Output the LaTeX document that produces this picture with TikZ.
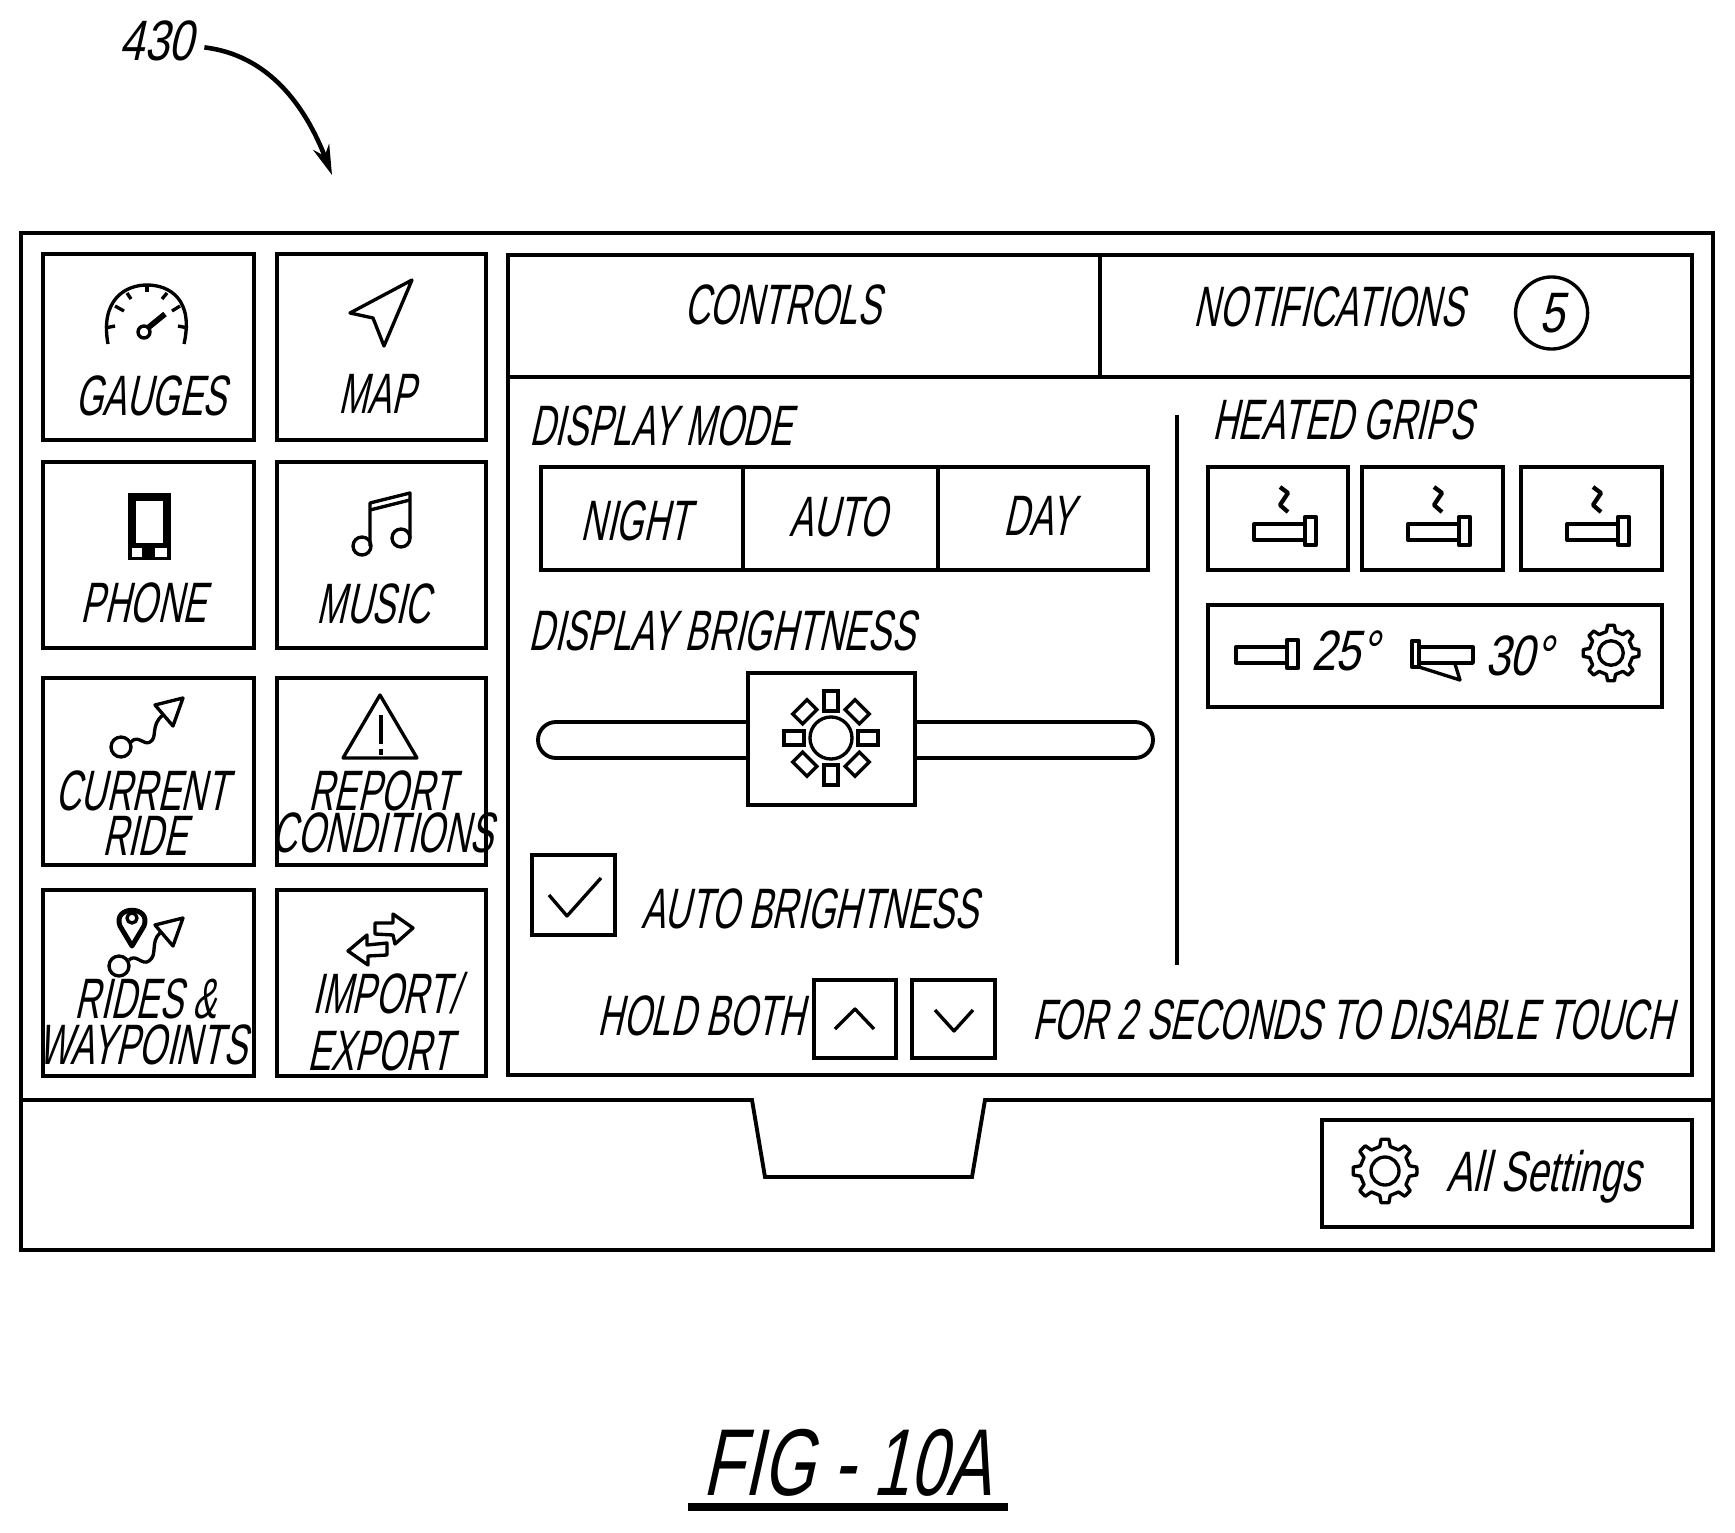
\documentclass[tikz,border=0pt]{standalone}
\usepackage{fontspec}
\usetikzlibrary{calc,arrows.meta}
\newfontfamily\uifont{Liberation Sans}[FakeStretch=0.62,FakeSlant=0.22]
\newfontfamily\numfont{Liberation Sans}[FakeStretch=0.78,FakeSlant=0.22]
\newfontfamily\mixfont{Liberation Sans}[FakeStretch=0.68,FakeSlant=0.22]
\newfontfamily\figfont{Liberation Sans}[FakeStretch=0.7,FakeSlant=0.22]
\tikzset{
    box/.style     = {line width=1.1pt,line join=miter},
    iconline/.style = {line width=0.95pt,line join=round},
    uilabel/.style = {font=\uifont\fontsize{16.2}{18}\selectfont,anchor=base,inner sep=0pt,xshift=-0.044cm,yshift=0.02cm},
    numlabel/.style = {uilabel,font=\numfont\fontsize{16.2}{18}\selectfont},
    arrow/.style   = {line width=1.3pt,-{Stealth[length=0.3cm,width=0.17cm]}},
    ray/.style     = {draw,line width=0.95pt,inner sep=0pt,minimum width=0.2cm,minimum height=0.14cm},
    gripbar/.pic   = {
        \draw[iconline] (0,-8) rectangle (51,8);
        \draw[iconline,line width=1.2pt] (51,-15) rectangle (62,13);
    },
    gripheat/.pic  = {
        \draw[iconline,line width=1.2pt] (26,-45) -- (34,-39) -- (26,-27) -- (34,-20);
        \pic {gripbar};
    },
    gearicon/.pic  = {
        \draw[iconline] (0:32)
            \foreach \a in {0,45,...,315} {
                -- (\a+7:32) -- (\a+12:25) -- (\a+33:25) -- (\a+38:32)
            } -- cycle;
        \draw[iconline] (0,0) circle[radius=14];
    },
    triphead/.pic  = {
        \draw[iconline] (0,0) -- (-28,7) -- (-10,28) -- cycle;
    },
}

\begin{document}
\begin{tikzpicture}[x=0.01cm,y=-0.01cm]
    \useasboundingbox (0,0) rectangle (1735,1533);

    % reference numeral
    \node[numlabel] (refnum) at (161,63) {430};
    \coordinate (reftip) at (332,175);
    \draw[arrow] (refnum.east) ++(10,6) .. controls (268,55) and (305,105) .. (reftip);

    % outer frame
    \draw[box] (21,233) rectangle (1713,1250);
    \draw[box] (21,1100) -- (752,1100) -- (765,1177) -- (972,1177) -- (985,1100) -- (1713,1100);

    % tiles
    \draw[box] (43,254) rectangle (254,440);
    \draw[box] (277,254) rectangle (486,440);
    \draw[box] (43,462) rectangle (254,648);
    \draw[box] (277,462) rectangle (486,648);
    \draw[box] (43,678) rectangle (254,865);
    \draw[box] (277,678) rectangle (486,865);
    \draw[box] (43,890) rectangle (254,1076);
    \draw[box] (277,890) rectangle (486,1076);

    \node[uilabel] (gauges) at (155,417) {GAUGES};
    \node[uilabel] (map) at (381,415) {MAP};
    \node[uilabel] (phone) at (148,624) {PHONE};
    \node[uilabel] (music) at (378,625) {MUSIC};
    \node[uilabel] (current) at (146,812) {CURRENT};
    \node[uilabel] (ride) at (149,857) {RIDE};
    \node[uilabel] (report) at (386,812) {REPORT};
    \node[uilabel] (conditions) at (387,854) {CONDITIONS};
    \node[uilabel] (rides) at (150,1020) {RIDES \&};
    \node[uilabel] (waypoints) at (147,1066) {WAYPOINTS};
    \node[uilabel] (import) at (390,1015) {IMPORT/};
    \node[uilabel] (export) at (384,1072) {EXPORT};

    % gauge icon
    \draw[iconline] (108,344) .. controls (100,300) and (125,285) .. (147,285)
        .. controls (170,285) and (194,300) .. (184,344);
    \draw[iconline] (105,328) -- (115,326);
    \draw[iconline] (115,306) -- (124,311);
    \draw[iconline] (127,293) -- (131,299);
    \draw[iconline] (147,285) -- (147,292);
    \draw[iconline] (167,293) -- (162,299);
    \draw[iconline] (180,306) -- (172,311);
    \draw[iconline] (188,328) -- (178,326);
    \draw[iconline] (144,332) circle[radius=6];
    \draw[line width=1.6pt] (149,327) -- (165,314);

    % map icon
    \draw[iconline] (412,280) -- (350,313) -- (373,318) -- (384,346) -- cycle;

    % phone icon
    \fill (128,493) rectangle (171,560);
    \fill[white] (136,501) rectangle (163,543);
    \fill[white] (132,548) rectangle (142,557);
    \fill[white] (155,548) rectangle (167,557);

    % music icon
    \draw[iconline] (362,546) circle[radius=9];
    \draw[iconline] (401,538) circle[radius=9];
    \draw[iconline] (370,546) -- (370,503) -- (410,493) -- (410,538);
    \draw[iconline] (370,510) -- (410,500);

    % current ride icon
    \draw[iconline] (121,747) circle[radius=10];
    \draw[iconline] (131,742) .. controls (138,734) and (144,746) .. (150,742)
        .. controls (158,738) and (150,725) .. (163,715);
    \pic at (183,698) {triphead};

    % warning icon
    \draw[iconline] (380,695) -- (343,758) -- (417,758) -- cycle;
    \draw[iconline] (381,715) -- (381,744);
    \draw[iconline] (381,749) -- (381,755);

    % rides icon
    \draw[line width=1.4pt,line join=round] (132,946) -- (120,926) .. controls (112,905) and (152,905) .. (144,926) -- cycle;
    \draw[iconline] (132,918) circle[radius=5];
    \draw[iconline] (119,966) circle[radius=10];
    \draw[iconline] (129,960) .. controls (136,953) and (142,966) .. (149,961)
        .. controls (158,955) and (150,942) .. (160,933);
    \pic at (183,918) {triphead};

    % import export icon
    \draw[iconline] (375,923) -- (375,934) -- (393,935) -- (395,944) -- (413,928) -- (393,914) -- (393,923) -- cycle;
    \draw[iconline] (348,951) -- (367,935) -- (367,945) -- (387,943) -- (387,955) -- (368,956) -- (368,965) -- cycle;

    % right panel
    \draw[box] (508,255) rectangle (1692,1075);
    \draw[box] (508,377) -- (1692,377);
    \draw[box] (1100,255) -- (1100,377);
    \draw[box] (1177,415) -- (1177,965);
    \node[uilabel] (controls) at (787,327) {CONTROLS};
    \node[uilabel] (notifications) at (1333,328) {NOTIFICATIONS};
    \node[numlabel,anchor=center,draw,circle,line width=0.95pt,minimum size=0.72cm] (badge) at (1556,315) {5};

    % display mode
    \node[uilabel] (displaymode) at (665,447) {DISPLAY MODE};
    \draw[box] (541,467) rectangle (1148,570);
    \draw[box] (743,467) -- (743,570);
    \draw[box] (938,467) -- (938,570);
    \node[uilabel] (night) at (640,542) {NIGHT};
    \node[uilabel] (auto) at (843,538) {AUTO};
    \node[uilabel] (day) at (1043,537) {DAY};

    % brightness
    \node[uilabel] (displaybright) at (726,652) {DISPLAY BRIGHTNESS};
    \draw[box,rounded corners=0.18cm] (538,722) rectangle (1153,758);
    \draw[box,fill=white] (748,673) rectangle (915,805);
    \node[draw,circle,line width=0.95pt,inner sep=0pt,minimum size=0.42cm] (sun) at (831,738) {};
    \foreach \a in {0,45,...,315}
        \node[ray,rotate=\a] (ray\a) at ($(sun)+(\a:37)$) {};

    \draw[box] (532,855) rectangle (615,935);
    \coordinate (checkl) at (549,895);
    \coordinate (checkm) at (567,916);
    \coordinate (checkr) at (601,878);
    \draw[iconline] (checkl) -- (checkm) -- (checkr);
    \node[uilabel] (autobright) at (814,930) {AUTO BRIGHTNESS};

    % touch hint
    \node[uilabel] (holdboth) at (705,1037) {HOLD BOTH};
    \draw[box] (814,980) rectangle (896,1058);
    \draw[iconline] (835,1029) -- (855,1009) -- (874,1029);
    \draw[box] (912,980) rectangle (995,1058);
    \draw[iconline] (935,1010) -- (954,1031) -- (973,1010);
    \node[uilabel] (forsecs) at (1357,1041) {FOR 2 SECONDS TO DISABLE TOUCH};

    % heated grips
    \node[uilabel] (heated) at (1347,442) {HEATED GRIPS};
    \draw[box] (1208,467) rectangle (1348,570);
    \draw[box] (1362,467) rectangle (1503,570);
    \draw[box] (1521,467) rectangle (1662,570);
    \pic at (1254,532) {gripheat};
    \pic at (1408,532) {gripheat};
    \pic at (1567,532) {gripheat};

    \draw[box] (1208,605) rectangle (1662,707);
    \pic at (1236,655) {gripbar};
    \node[numlabel] (handtemp) at (1349,672) {25°};
    \draw[iconline,line width=1.2pt] (1412,641) rectangle (1419,667);
    \draw[iconline] (1419,647) -- (1473,647) -- (1473,663) -- (1419,663);
    \draw[iconline] (1419,667) -- (1460,680) -- (1455,664);
    \node[numlabel] (thumbtemp) at (1523,677) {30°};
    \pic[scale=0.875] at (1611,653) {gearicon};

    % all settings
    \draw[box] (1322,1120) rectangle (1692,1227);
    \pic at (1385,1171) {gearicon};
    \node[uilabel,font=\mixfont\fontsize{16.2}{18}\selectfont] (settings) at (1548,1193) {All Settings};

    % figure caption
    \node[anchor=base,inner sep=0pt,xshift=-0.03cm,font=\figfont\fontsize{27}{30}\selectfont] (figcap) at (850,1495) {FIG - 10A};
    \coordinate (capl) at (688,1507);
    \coordinate (capr) at (1008,1507);
    \draw[line width=2.5pt] (capl) -- (capr);
\end{tikzpicture}
\end{document}
